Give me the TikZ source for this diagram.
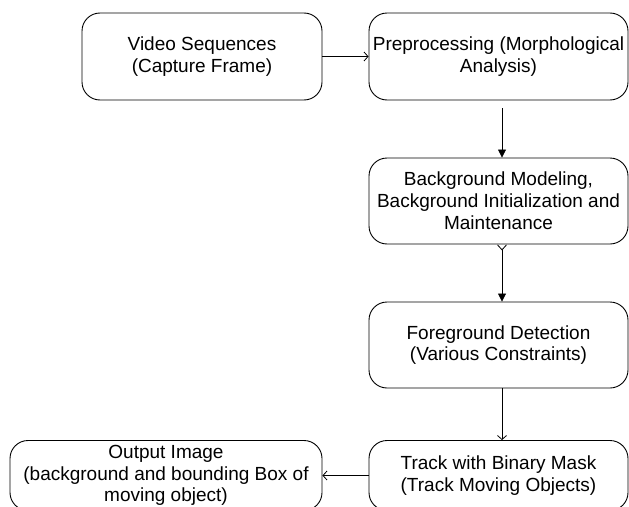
\documentclass[tikz,border=0pt]{standalone}
\usepackage{fontspec}
\setmainfont{Liberation Sans}
\usetikzlibrary{arrows.meta}
\begin{document}
\begin{tikzpicture}[x=1pt,y=-1pt,
  stage/.style={draw=black, line width=0.9pt, rounded corners=18pt,
    inner sep=0pt, align=center,
    font=\fontsize{19}{21.8}\selectfont},
  link/.style={draw=black, line width=0.8pt},
  solidtip/.style={-{Triangle[length=8pt,width=8pt]}},
  opentip/.style={-{Straight Barb[length=4pt,width=9pt,line width=0.8pt]}}
]
\useasboundingbox (0,0) rectangle (629,506);

% process stages
\node[stage, minimum width=240pt, minimum height=87pt] (video) at (202,56.5)
  {Video Sequences\\(Capture Frame)};
\node[stage, minimum width=259pt, minimum height=87pt] (pre) at (498.5,56.5)
  {Preprocessing (Morphological\\Analysis)};
\node[stage, minimum width=259pt, minimum height=86pt] (bg) at (498.5,201)
  {Background Modeling,\\Background Initialization and\\Maintenance};
\node[stage, minimum width=259pt, minimum height=86pt] (fg) at (498.5,345)
  {Foreground Detection\\(Various Constraints)};
\node[stage, minimum width=259pt, minimum height=70pt] (track) at (498.5,475.5)
  {Track with Binary Mask\\(Track Moving Objects)};
\node[stage, minimum width=312pt, minimum height=70pt] (out) at (166,475.5)
  {Output Image\\(background and bounding Box of\\moving object)};

% connectors
\draw[link, opentip] (video.east) -- (pre.west);
\draw[link, solidtip] ([xshift=3.5pt,yshift=-8pt]pre.south) -- ([xshift=3.5pt]bg.north);
\draw[link, {Straight Barb[reversed,length=5pt,width=9pt,line width=0.8pt]}-{Triangle[length=8pt,width=8pt]}]
  ([xshift=3.5pt]bg.south) -- ([xshift=3.5pt]fg.north);
\draw[link, opentip] ([xshift=3.5pt]fg.south) -- ([xshift=3.5pt]track.north);
\draw[link, opentip] (track.west) -- (out.east);
\end{tikzpicture}
\end{document}
